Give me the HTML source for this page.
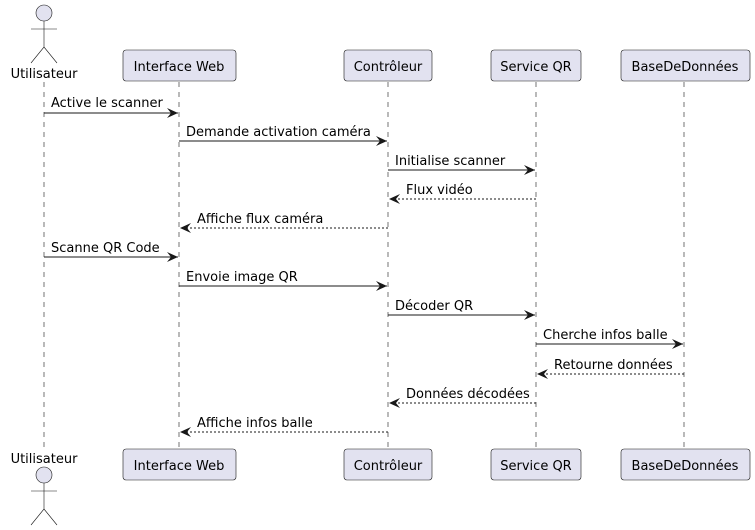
<!DOCTYPE html>
<html><head><meta charset="utf-8"><style>html,body{margin:0;padding:0;background:#fff}svg{display:block}</style></head><body>
<svg width="755" height="530" xmlns="http://www.w3.org/2000/svg" font-family="'DejaVu Sans','Liberation Sans',sans-serif" font-size="13">
<defs>
<marker id="a" markerWidth="12" markerHeight="10" refX="11" refY="5" orient="auto" markerUnits="userSpaceOnUse"><path d="M0,0 L11,5 L0,10 L4,5 Z" fill="#181818"/></marker>
</defs>
<g stroke="#181818" stroke-width="0.6" stroke-dasharray="5,5">
<line x1="44" y1="82" x2="44" y2="448"/>
<line x1="179" y1="82" x2="179" y2="448"/>
<line x1="388" y1="82" x2="388" y2="448"/>
<line x1="536" y1="82" x2="536" y2="448"/>
<line x1="684" y1="82" x2="684" y2="448"/>
</g>
<g fill="#E2E2F0" stroke="#181818" stroke-width="0.6">
<rect x="123" y="50" width="113" height="31" rx="3"/>
<rect x="344" y="50" width="88" height="31" rx="3"/>
<rect x="491" y="50" width="90" height="31" rx="3"/>
<rect x="621" y="50" width="129" height="31" rx="3"/>
<rect x="123" y="449" width="113" height="31" rx="3"/>
<rect x="344" y="449" width="88" height="31" rx="3"/>
<rect x="491" y="449" width="90" height="31" rx="3"/>
<rect x="621" y="449" width="129" height="31" rx="3"/>
<circle cx="44" cy="13" r="8"/>
<circle cx="44" cy="475" r="8"/>
</g>
<g stroke="#181818" stroke-width="0.6" fill="none">
<path d="M44,21 V47 M31,29 H57 M31,63 L44,47 L57,63"/>
<path d="M44,483 V509 M31,491 H57 M31,525 L44,509 L57,525"/>
</g>
<g fill="#000" text-anchor="middle">
<text x="179" y="71">Interface Web</text>
<text x="388" y="71">Contrôleur</text>
<text x="536" y="71">Service QR</text>
<text x="685" y="71">BaseDeDonnées</text>
<text x="179" y="470">Interface Web</text>
<text x="388" y="470">Contrôleur</text>
<text x="536" y="470">Service QR</text>
<text x="685" y="470">BaseDeDonnées</text>
<text x="44" y="78">Utilisateur</text>
<text x="44" y="463">Utilisateur</text>
</g>
<g stroke="#181818" stroke-width="1" marker-end="url(#a)">
<line x1="44" y1="113" x2="178" y2="113"/>
<line x1="179" y1="141" x2="387" y2="141"/>
<line x1="388" y1="170" x2="535" y2="170"/>
<line x1="536" y1="199" x2="389" y2="199" stroke-dasharray="2,2"/>
<line x1="388" y1="228" x2="180" y2="228" stroke-dasharray="2,2"/>
<line x1="44" y1="257" x2="178" y2="257"/>
<line x1="179" y1="286" x2="387" y2="286"/>
<line x1="388" y1="315" x2="535" y2="315"/>
<line x1="536" y1="344" x2="683" y2="344"/>
<line x1="684" y1="374" x2="537" y2="374" stroke-dasharray="2,2"/>
<line x1="536" y1="403" x2="389" y2="403" stroke-dasharray="2,2"/>
<line x1="388" y1="432" x2="180" y2="432" stroke-dasharray="2,2"/>
</g>
<g fill="#000">
<text x="51" y="107">Active le scanner</text>
<text x="186" y="136">Demande activation caméra</text>
<text x="395" y="165">Initialise scanner</text>
<text x="406" y="194">Flux vidéo</text>
<text x="197" y="223">Affiche flux caméra</text>
<text x="51" y="252">Scanne QR Code</text>
<text x="186" y="281">Envoie image QR</text>
<text x="395" y="310">Décoder QR</text>
<text x="543" y="339">Cherche infos balle</text>
<text x="554" y="369">Retourne données</text>
<text x="406" y="398">Données décodées</text>
<text x="197" y="427">Affiche infos balle</text>
</g>
</svg>
</body></html>
